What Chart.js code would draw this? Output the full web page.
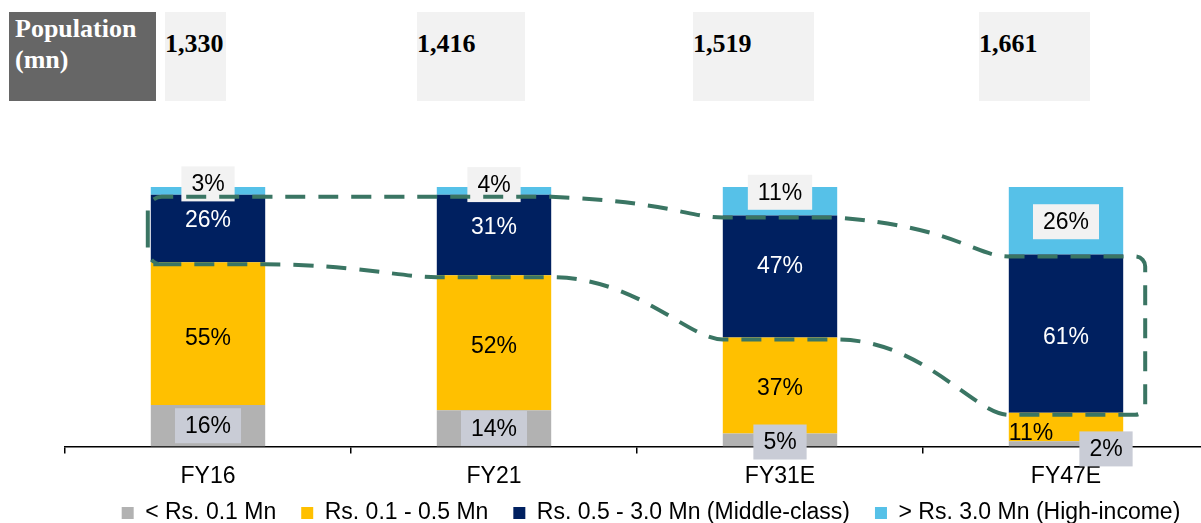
<!DOCTYPE html>
<html>
<head>
<meta charset="utf-8">
<script src="https://cdn.jsdelivr.net/npm/chart.js@4/dist/chart.umd.min.js"></script>
<style>
  html, body { margin: 0; padding: 0; background: #fff; width: 1201px; height: 523px; overflow: hidden; }
  #wrap { position: absolute; left: 0; top: 12px; width: 1243px; height: 534px; }
  .hdr { position: absolute; top: 12px; height: 89px; box-sizing: border-box;
         font: bold 26px 'Liberation Serif', 'Times New Roman', serif; line-height: 31px; }
  .hdr.title { left: 9px; width: 147px; background: #666666; color: #fff; padding: 1px 0 0 6px; }
  .hdr.pop { background: #f2f2f2; color: #000; padding-top: 16px; }
</style>
</head>
<body>
<div id="wrap"><canvas id="c"></canvas></div>
<div class="hdr title">Population<br>(mn)</div>
<div id="pops"></div>
<script>
// Income-bracket share of households (%), by fiscal year
const categories = ['FY16', 'FY21', 'FY31E', 'FY47E'];
const population = [1330, 1416, 1519, 1661];           // mn
const below01 = [16, 14, 5, 2];                         // < Rs. 0.1 Mn
const from01to05 = [55, 52, 37, 11];                    // Rs. 0.1 - 0.5 Mn
const from05to30 = [26, 31, 47, 61];                    // Rs. 0.5 - 3.0 Mn
const above30 = [3, 4, 11, 26];                         // > Rs. 3.0 Mn
const seriesNames = ['< Rs. 0.1 Mn', 'Rs. 0.1 - 0.5 Mn',
                     'Rs. 0.5 - 3.0 Mn (Middle-class)', '> Rs. 3.0 Mn (High-income)'];

// Population header cells: [left, width]
const popCells = [[165, 61], [417, 108], [693, 121], [979, 111]];
const pops = document.getElementById('pops');
population.forEach((p, i) => {
  const d = document.createElement('div');
  d.className = 'hdr pop';
  d.style.left = popCells[i][0] + 'px';
  d.style.width = popCells[i][1] + 'px';
  d.textContent = p.toLocaleString('en-US');
  pops.appendChild(d);
});

const FONT = "'Liberation Sans', Arial, sans-serif";
const colors = ['#b2b2b2', '#ffc000', '#002060', '#56c1e8'];
const labelStyle = [
  { color: '#000', box: '#c9ccd6' },
  { color: '#000', box: null },
  { color: '#fff', box: null },
  { color: '#000', box: '#f2f2f2' }
];
// nudges for value labels, keyed "dataset-index": [dx, dy]
const labelNudge = {
  '0-2': [0, 2], '0-3': [40, 5],
  '1-0': [0, 4], '1-1': [0, 3], '1-2': [0, 2], '1-3': [-35, 6],
  '2-0': [0, -9], '2-1': [0, -8], '2-2': [0, -11], '2-3': [0, 3],
  '3-0': [0, -7], '3-1': [0, -5], '3-2': [0, -9], '3-3': [0, 1]
};

const valueLabels = {
  id: 'valueLabels',
  afterDatasetsDraw(chart) {
    const ctx = chart.ctx;
    ctx.save();
    ctx.font = '23px ' + FONT;
    ctx.textAlign = 'center';
    ctx.textBaseline = 'middle';
    chart.data.datasets.forEach((ds, di) => {
      const meta = chart.getDatasetMeta(di);
      meta.data.forEach((el, i) => {
        const txt = ds.data[i] + '%';
        const n = labelNudge[di + '-' + i] || [0, 0];
        const x = el.x + n[0];
        const y = (el.y + el.base) / 2 + n[1];
        const st = labelStyle[di];
        if (st.box) {
          const w = ctx.measureText(txt).width + 20;
          const h = 35;
          ctx.fillStyle = st.box;
          ctx.fillRect(x - w / 2, y - h / 2, w, h);
        }
        ctx.fillStyle = st.color;
        ctx.fillText(txt, x, y + 1);
      });
    });
    ctx.restore();
  }
};

// dashed outline around the middle-class segments
const middleClassOutline = {
  id: 'middleClassOutline',
  afterDatasetsDraw(chart) {
    const meta = chart.getDatasetMeta(2);
    const els = meta.data;
    if (!els.length) return;
    const ctx = chart.ctx;
    const top = els.map(e => ({ l: e.x - e.width / 2, r: e.x + e.width / 2, y: e.y + 2 }));
    const bot = els.map(e => ({ l: e.x - e.width / 2, r: e.x + e.width / 2, y: e.base + 2 }));
    const n = els.length;
    const xLeft = top[0].l - 3;
    const xRight = top[n - 1].r + 22;
    ctx.save();
    ctx.strokeStyle = '#3a7563';
    ctx.lineWidth = 4;
    ctx.setLineDash([20, 13]);
    ctx.beginPath();
    ctx.moveTo(xLeft, (top[0].y + bot[0].y) / 2);
    ctx.arcTo(xLeft, top[0].y, top[0].l + 20, top[0].y, 14);
    ctx.lineTo(top[0].r, top[0].y);
    // upper edge: stays high across the gap, then dips onto the next bar
    for (let i = 1; i < n; i++) {
      const a = top[i - 1], b = top[i];
      const g = b.l - a.r;
      ctx.bezierCurveTo(a.r + g * 0.7, a.y + (b.y - a.y) * 0.25, b.l - g * 0.2, b.y, b.l, b.y);
      ctx.lineTo(b.r, b.y);
    }
    ctx.arcTo(xRight, top[n - 1].y, xRight, bot[n - 1].y, 10);
    ctx.arcTo(xRight, bot[n - 1].y, bot[n - 1].r, bot[n - 1].y, 10);
    ctx.lineTo(bot[n - 1].l, bot[n - 1].y);
    // lower edge, traced right to left
    for (let i = n - 2; i >= 0; i--) {
      const a = bot[i + 1], b = bot[i];
      const g = a.l - b.r;
      ctx.bezierCurveTo(a.l - g * 0.2, a.y, b.r + g * 0.5, b.y, b.r, b.y);
      ctx.lineTo(b.l, b.y);
    }
    ctx.arcTo(xLeft, bot[0].y, xLeft, top[0].y, 14);
    ctx.closePath();
    ctx.stroke();
    ctx.restore();
  }
};

// pull the legend row up a little, closer to the axis labels
const legendRaise = {
  id: 'legendRaise',
  afterLayout(chart) {
    const lg = chart.legend;
    if (!lg) return;
    lg.top -= 11.5;
    lg.bottom -= 11.5;
  }
};

const seriesValues = [below01, from01to05, from05to30, above30];
new Chart(document.getElementById('c'), {
  type: 'bar',
  data: {
    labels: categories,
    datasets: seriesValues.map((vals, k) => ({
      label: seriesNames[k],
      data: vals,
      backgroundColor: colors[k],
      borderWidth: 0,
      barPercentage: 0.4,
      categoryPercentage: 1
    }))
  },
  options: {
    responsive: true,
    maintainAspectRatio: false,
    animation: false,
    devicePixelRatio: 1,
    layout: { padding: { left: 65, right: 6, top: 175, bottom: 0 } },
    plugins: {
      tooltip: { enabled: false },
      legend: {
        position: 'bottom',
        labels: {
          boxWidth: 12, boxHeight: 12, padding: 25,
          color: '#000', font: { family: FONT, size: 23 }
        }
      }
    },
    scales: {
      x: {
        stacked: true,
        grid: { display: true, drawOnChartArea: false, drawTicks: true, tickLength: 7,
                color: '#000', lineWidth: 1.5, offset: true },
        border: { display: true, color: '#000', width: 1.5 },
        ticks: { color: '#000', font: { family: FONT, size: 23 }, padding: 9 },
        afterFit(s) { s.height = 41.5; }
      },
      y: {
        stacked: true, min: 0, max: 100, position: 'right',
        grid: { display: false }, border: { display: false }, ticks: { display: false },
        afterFit(s) { s.width = 28; }
      }
    }
  },
  plugins: [valueLabels, middleClassOutline, legendRaise]
});
</script>
</body>
</html>
